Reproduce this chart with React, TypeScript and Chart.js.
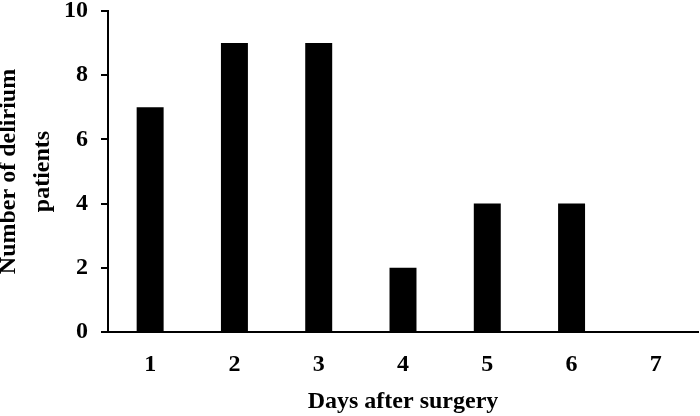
import React, { useEffect, useRef } from "react";
import { Chart, registerables } from "chart.js";

Chart.register(...registerables);

const categories = ["1", "2", "3", "4", "5", "6", "7"];
const patients = [7, 9, 9, 2, 4, 4, 0];
const yTicks = [0, 2, 4, 6, 8, 10];
const xTitle = "Days after surgery";
const yTitle = ["Number of delirium", "patients"];

const FONT = "'Liberation Serif', 'Times New Roman', serif";

export default function App() {
  const ref = useRef<HTMLCanvasElement | null>(null);
  useEffect(() => {
    document.body.style.margin = "0";
    const ctx = ref.current!;
    const chart = new Chart(ctx, {
      type: "bar",
      data: {
        labels: categories,
        datasets: [
          {
            data: patients,
            backgroundColor: "#000000",
            borderWidth: 0,
            barPercentage: 0.32,
            categoryPercentage: 1,
          },
        ],
      },
      options: {
        responsive: false,
        animation: false,
        plugins: { legend: { display: false }, tooltip: { enabled: false } },
        layout: { padding: { top: 11, right: 2, left: 0, bottom: 0 } },
        scales: {
          x: {
            grid: { display: true, drawOnChartArea: false, drawTicks: false },
            border: { display: true, color: "#000", width: 2 },
            ticks: {
              color: "#000",
              font: { family: FONT, size: 24, weight: "bold" },
              padding: 18,
            },
            title: {
              display: true,
              text: xTitle,
              color: "#000",
              font: { family: FONT, size: 24, weight: "bold" },
              padding: { top: 12, bottom: 0 },
            },
            afterFit: (s: any) => {
              s.height = 84;
              s.paddingLeft = 0;
              s.paddingRight = 0;
            },
          },
          y: {
            min: 0,
            max: 10,
            afterBuildTicks: (s: any) => {
              s.ticks = yTicks.map((v) => ({ value: v }));
            },
            grid: {
              display: true,
              drawOnChartArea: false,
              drawTicks: true,
              tickLength: 7,
              color: "#000",
              lineWidth: 2,
            },
            border: { display: true, color: "#000", width: 2 },
            ticks: {
              color: "#000",
              font: { family: FONT, size: 24, weight: "bold" },
              padding: 13,
            },
            title: {
              display: true,
              text: yTitle,
              color: "#000",
              font: { family: FONT, size: 24, weight: "bold", lineHeight: 1.4 },
              padding: { top: -8, bottom: 0 },
            },
            afterFit: (s: any) => {
              s.width = 108;
              s.paddingTop = 0;
              s.paddingBottom = 0;
            },
          },
        },
      },
    });
    return () => chart.destroy();
  }, []);
  return <canvas ref={ref} width={700} height={416} style={{ display: "block" }} />;
}
